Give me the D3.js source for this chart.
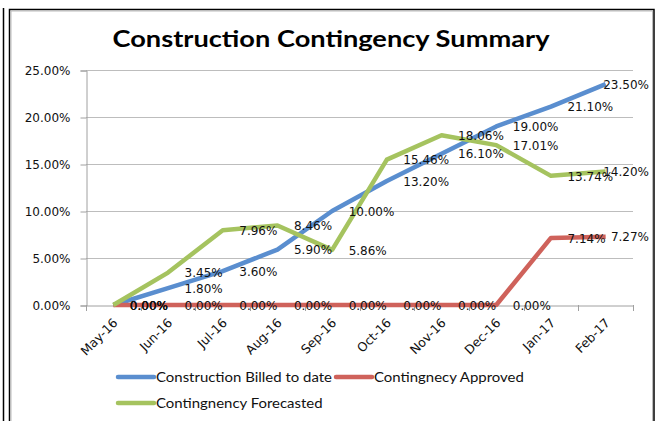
<!DOCTYPE html>
<html lang="en">
<head>
    <meta charset="UTF-8">
    <title>Construction Contingency Summary</title>
    <style>
        body { margin: 0; background: #fff; }
    </style>
</head>
<body>
    <div id="chart"></div>
    <script src="https://d3js.org/d3.v7.min.js"></script>
    <script>
        const months = ['May-16','Jun-16','Jul-16','Aug-16','Sep-16','Oct-16','Nov-16','Dec-16','Jan-17','Feb-17']
        const billed = [0, 1.80, 3.60, 5.90, 10.00, 13.20, 16.10, 19.00, 21.10, 23.50]
        const approved = [0, 0, 0, 0, 0, 0, 0, 0, 7.14, 7.27]
        const forecasted = [0, 3.45, 7.96, 8.46, 5.86, 15.46, 18.06, 17.01, 13.74, 14.20]
        const seriesNames = ['Construction Billed to date', 'Contingnecy Approved', 'Contingnency Forecasted']
        const yTicks = [0, 5, 10, 15, 20, 25]

        const [width, height] = [658, 421]
        const colors = ['#5a8ecf', '#cf625b', '#a5c35f']
        const series = [billed, approved, forecasted]

        const svg = d3.select('#chart').append('svg')
            .attr('width', width)
            .attr('height', height)

        // frames
        svg.append('line')
            .attr('x1', 3.5).attr('x2', 3.5).attr('y1', 8).attr('y2', height)
            .attr('stroke', '#000').attr('stroke-width', 1.5)
        svg.append('rect')
            .attr('x', 9.5).attr('y', 9.5)
            .attr('width', 644.5).attr('height', height)
            .attr('fill', '#fff')
            .attr('stroke', '#000').attr('stroke-width', 1.5)
        svg.append('rect')
            .attr('x', 11).attr('y', 11)
            .attr('width', 641.5).attr('height', height)
            .attr('fill', 'none')
            .attr('stroke', '#bbb').attr('stroke-width', 1)

        svg.append('text')
            .attr('x', 331).attr('y', 47)
            .attr('text-anchor', 'middle')
            .attr('textLength', 437)
            .attr('lengthAdjust', 'spacingAndGlyphs')
            .style('font-family', 'Lato, sans-serif')
            .style('font-weight', 'bold')
            .style('font-size', '22px')
            .text('Construction Contingency Summary')

        const x = d3.scaleBand().domain(months).range([86, 633])
        const y = d3.scaleLinear().domain([0, 25]).range([305, 70])
        const cx = m => x(m) + x.bandwidth() / 2
        const fmt = v => d3.format('.2f')(v) + '%'

        // gridlines
        svg.append('g').selectAll('line')
            .data(yTicks.slice(1))
            .join('line')
            .attr('x1', 86).attr('x2', 633)
            .attr('y1', d => Math.round(y(d)) + 0.5).attr('y2', d => Math.round(y(d)) + 0.5)
            .attr('stroke', '#bdbdbd')

        // y axis
        const yAxis = svg.append('g')
            .attr('transform', 'translate(86.5,0.5)')
            .call(d3.axisLeft(y).tickValues(yTicks).tickFormat(fmt).tickSize(6).tickPadding(10))
        yAxis.select('.domain').attr('stroke', '#a0a0a0')
        yAxis.selectAll('.tick line').attr('stroke', '#a0a0a0')
        yAxis.selectAll('text')
            .style('font-family', 'DejaVu Sans, Verdana, sans-serif')
            .style('font-size', '12px')
            .attr('fill', '#111')

        // x axis
        const xAxis = svg.append('g')
            .attr('transform', 'translate(0,305.5)')
            .call(d3.axisBottom(x).tickSize(0).tickPadding(0))
        xAxis.select('.domain').attr('stroke', '#a0a0a0')
        xAxis.selectAll('text')
            .style('font-family', 'DejaVu Sans, Verdana, sans-serif')
            .style('font-size', '12.5px')
            .attr('fill', '#111')
            .attr('text-anchor', 'end')
            .attr('dy', '0.35em')
            .attr('transform', 'translate(2,15) rotate(-45)')
        svg.append('g').selectAll('line')
            .data(months.concat(['end']))
            .join('line')
            .attr('x1', (d, i) => Math.round(86 + i * x.bandwidth()) + 0.5)
            .attr('x2', (d, i) => Math.round(86 + i * x.bandwidth()) + 0.5)
            .attr('y1', 305).attr('y2', 311)
            .attr('stroke', '#a0a0a0')

        // lines
        const line = d3.line()
            .x((d, i) => cx(months[i]))
            .y(d => y(d))
        svg.append('g').selectAll('path')
            .data(series)
            .join('path')
            .attr('d', d => line(d))
            .attr('fill', 'none')
            .attr('stroke', (d, i) => colors[i])
            .attr('stroke-width', 4.5)
            .attr('stroke-linejoin', 'round')

        // data labels
        const labels = svg.append('g')
            .style('font-family', 'DejaVu Sans, Verdana, sans-serif')
            .style('font-size', '12px')
        series.forEach(s => {
            s.forEach((v, i) => {
                const t = labels.append('text')
                    .attr('y', y(v))
                    .attr('dy', '0.4em')
                    .attr('fill', '#111')
                    .text(fmt(v))
                const w = t.node().getComputedTextLength()
                t.attr('x', Math.min(cx(months[i]) + 16.5, 649 - w))
            })
        })

        // legend
        const legendPos = [[118, 377], [336, 377], [118, 403]]
        const legend = svg.append('g').selectAll('g')
            .data(seriesNames)
            .join('g')
            .attr('transform', (d, i) => `translate(${legendPos[i][0]},${legendPos[i][1]})`)
        legend.append('line')
            .attr('x1', 0).attr('x2', 36)
            .attr('stroke', (d, i) => colors[i])
            .attr('stroke-width', 4.5)
            .attr('stroke-linecap', 'round')
        legend.append('text')
            .attr('transform', 'translate(38,0) scale(1.15,1)')
            .attr('dy', '0.35em')
            .style('font-family', 'Lato, sans-serif')
            .style('font-size', '13px')
            .attr('fill', '#111')
            .text(d => d)
    </script>
</body>
</html>
